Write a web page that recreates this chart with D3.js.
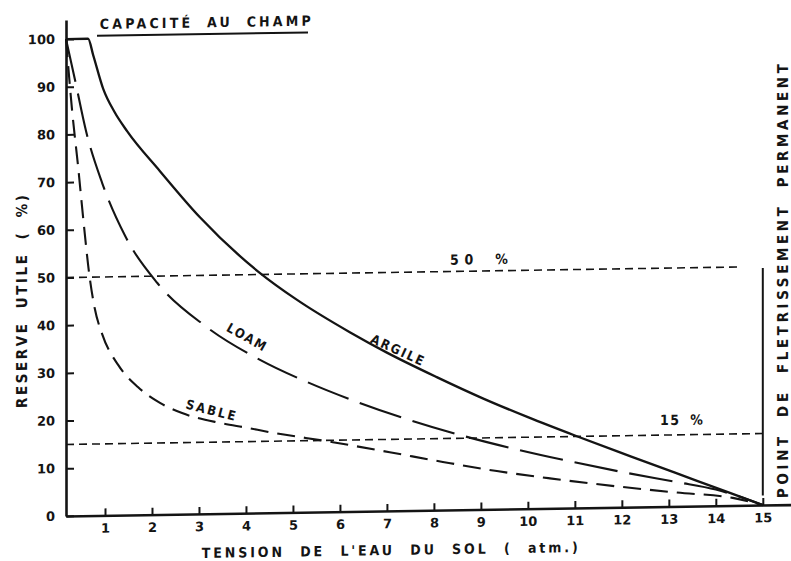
<!DOCTYPE html>
<html><head><meta charset="utf-8">
<script src="https://cdn.jsdelivr.net/npm/d3@7"></script>
<style>
html,body{margin:0;padding:0;background:#fff;}
svg{display:block;font-family:"DejaVu Sans Condensed","DejaVu Sans",sans-serif;font-weight:bold;}
</style></head><body>
<svg id="chart" width="791" height="561"></svg>
<script>
// ---- data ----
const xTicks = [1,2,3,4,5,6,7,8,9,10,11,12,13,14,15];
const yTicks = [0,10,20,30,40,50,60,70,80,90,100];

const argileT = [0.17,0.64,0.75,0.96,1.2,1.47,2.17,3.02,4.30,5.08,6.21,7.0,8.06,9.04,10.0,11.0,12.2,13.6,15];
const argileV = [100,100,96.5,89.5,84.6,80.5,72.0,62.2,50.3,44.6,37.6,33.2,27.9,23.3,19.2,15.2,10.6,5.3,0];

const loamT = [0.17,0.36,0.60,0.94,1.43,2.11,3.13,4.30,5.30,6.38,7.45,8.62,9.83,10.94,12.1,13.17,14.0,15];
const loamV = [100,91.5,80.5,69.7,58.5,48.6,39.4,32.1,27.3,22.9,19.1,15.5,12.3,9.7,7.2,5.1,3.4,0];

const sableT = [0.17,0.30,0.43,0.55,0.66,0.78,0.94,1.28,1.70,2.17,2.64,3.45,4.02,4.51,5.85,7.06,8.19,9.34,10.47,11.89,13.17,14.36,15];
const sableV = [100,85,73,61,51,43.5,38.0,31.5,26.8,23.4,21.2,19.0,17.9,16.9,14.6,12.3,10.1,8.0,6.3,4.4,2.9,1.6,0];

const refLevels = [50, 15];           // horizontal reference lines (%)
const refEnds = [14.5, 15];           // where each reference line stops (atm)
const pfpTension = 15;                // point de flétrissement permanent
const pfpRange = [2, 49.7];
const ccLine = [0.83, 5.32, 100.6];   // underline of "capacité au champ"

// ---- scales ----
const x = d3.scaleLinear().domain([0.17, 15.6]).range([66, 791]);
const y = d3.scaleLinear().domain([0, 104]).range([516, 20]);
const ink = "#141414";

const svg = d3.select("#chart");
const g = svg.append("g")
  .attr("transform", `translate(${x(0.17)},${y(0)}) skewY(-0.9) translate(${-x(0.17)},${-y(0)})`);

// axes
const yAxis = d3.axisLeft(y).tickValues(yTicks).tickSize(-8).tickSizeOuter(0).tickPadding(11);
const xAxis = d3.axisBottom(x).tickValues(xTicks).tickSize(-7).tickSizeOuter(0).tickPadding(8);

const ya = g.append("g").attr("transform", `translate(${x(0.17)},0)`).call(yAxis);
const xa = g.append("g").attr("transform", `translate(0,${y(0)})`).call(xAxis);
[ya, xa].forEach(a => {
  a.select(".domain").attr("stroke", ink).attr("stroke-width", 2.6);
  a.selectAll(".tick line").attr("stroke", ink).attr("stroke-width", 2);
  a.selectAll(".tick text").attr("fill", ink).attr("font-size", 13)
    .attr("font-family", "'DejaVu Sans',sans-serif").attr("font-weight", "bold");
});

// reference lines
refLevels.forEach((lv, i) => {
  g.append("line")
    .attr("x1", x(0.17)).attr("x2", x(refEnds[i]))
    .attr("y1", y(lv)).attr("y2", y(lv))
    .attr("stroke", ink).attr("stroke-width", 1.6).attr("stroke-dasharray", "8,5");
});
g.append("line")
  .attr("x1", x(pfpTension)).attr("x2", x(pfpTension))
  .attr("y1", y(pfpRange[0])).attr("y2", y(pfpRange[1]))
  .attr("stroke", ink).attr("stroke-width", 2);
g.append("line")
  .attr("x1", x(ccLine[0])).attr("x2", x(ccLine[1]))
  .attr("y1", y(ccLine[2])).attr("y2", y(ccLine[2]))
  .attr("stroke", ink).attr("stroke-width", 2);

// curves
const line = d3.line().x(d => x(d[0])).y(d => y(d[1])).curve(d3.curveMonotoneX);
const series = [
  {t: argileT, v: argileV, dash: null, w: 2.3},
  {t: loamT, v: loamV, dash: "44,12", w: 2.1},
  {t: sableT, v: sableV, dash: "18,9", w: 2.1}
];
series.forEach(s => {
  g.append("path")
    .attr("d", line(s.t.map((t, i) => [t, s.v[i]])))
    .attr("fill", "none").attr("stroke", ink).attr("stroke-width", s.w)
    .attr("stroke-dasharray", s.dash);
});

// texts
function label(txt, t, v, opts) {
  const o = Object.assign({size: 13, anchor: "start", rotate: 0, len: null, dy: 0, ls: 0, ws: 0, adj: "spacing"}, opts);
  const px = x(t), py = y(v);
  const el = g.append("text")
    .attr("x", px).attr("y", py).attr("dy", o.dy)
    .attr("font-size", o.size).attr("fill", ink)
    .attr("text-anchor", o.anchor)
    .attr("letter-spacing", o.ls).attr("word-spacing", o.ws)
    .attr("transform", o.rotate ? `rotate(${o.rotate},${px},${py})` : null)
    .text(txt);
  if (o.len) el.attr("textLength", o.len).attr("lengthAdjust", o.adj);
  return el;
}
label("CAPACITÉ AU CHAMP", 0.89, 102.0, {len: 213, size: 14, ls: 2, ws: 6});
label("TENSION DE L'EAU DU SOL ( atm.)", 3.06, -9.25, {len: 378, size: 14, ls: 2, ws: 8});
label("RESERVE UTILE ( %)", -0.66, 45.3, {len: 215, size: 15, anchor: "middle", rotate: -90, ls: 2, ws: 6});
label("POINT DE FLETRISSEMENT PERMANENT", 15.53, 47.1, {len: 436, size: 15, anchor: "middle", rotate: -90, ls: 2, ws: 8});
label("50 %", 8.34, 51.4, {len: 58, size: 14, ws: 6});
label("15 %", 12.81, 17.1, {len: 43, size: 14, ws: 4});
label("ARGILE", 7.23, 33.7, {len: 58, size: 13, anchor: "middle", rotate: 25, dy: "0.35em", ls: 1});
label("LOAM", 4.02, 36.9, {len: 44, size: 13, anchor: "middle", rotate: 30, dy: "0.35em", ls: 1});
label("SABLE", 3.26, 21.7, {len: 52, size: 13, anchor: "middle", rotate: 15, dy: "0.35em", ls: 1});
</script>
</body></html>
